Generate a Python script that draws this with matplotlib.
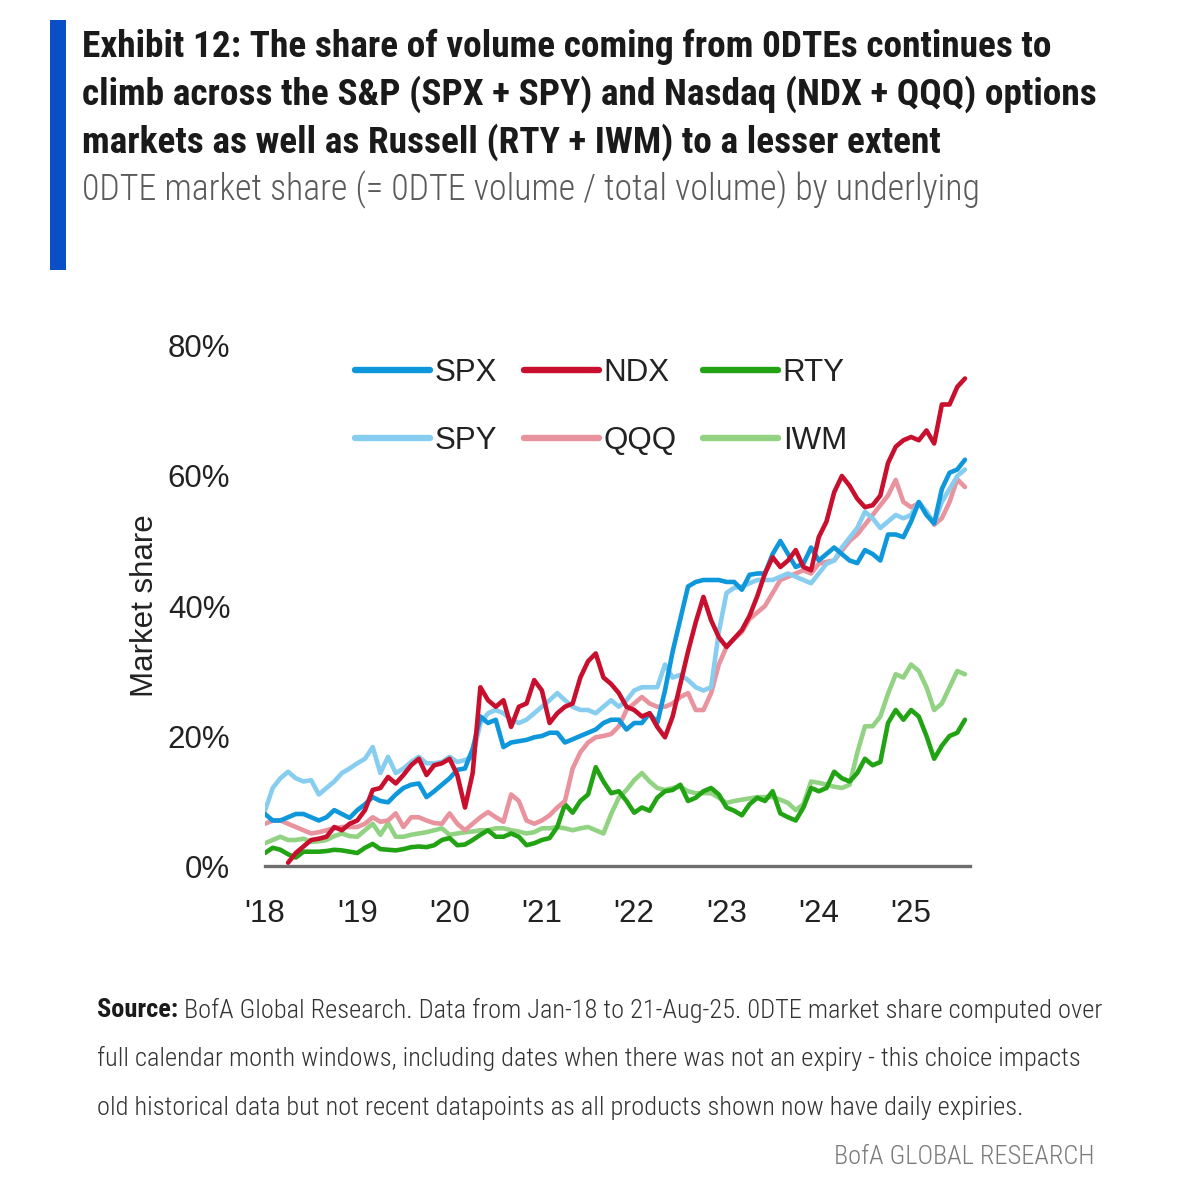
import matplotlib
matplotlib.use('Agg')
import matplotlib.pyplot as plt
from matplotlib import font_manager as fm
from matplotlib.patches import Rectangle
import numpy as np

# ---------------- data (monthly, Jan-18 .. Aug-25, % market share) ----------------
start_year = 2018
spx = [8, 7, 7, 7.5, 8, 8, 7.5, 7, 7.5, 8.6, 8, 7.4,
       8.6, 9.5, 10.6, 10, 9.8, 11, 12, 12.5, 12.7, 10.6, 11.5, 12.5,
       13.5, 14.8, 15, 18, 23, 22, 22.5, 18.3, 19, 19.2, 19.4, 19.8,
       20, 20.5, 20.5, 19, 19.5, 20, 20.5, 21, 22, 22.5, 22.5, 21,
       22, 22, 23.5, 22, 27, 33, 38, 43, 43.7, 44, 44, 44,
       43.7, 43.7, 42.5, 44.8, 45, 45, 48, 50, 48, 46, 46.5, 49,
       47, 48, 49, 48, 47, 46.6, 48.6, 48, 47, 51, 51, 50.6,
       53, 56, 54, 52.7, 58, 60.5, 61, 62.5]
spy = [8.5, 12, 13.5, 14.5, 13.5, 13, 13.2, 11, 12, 13, 14.3, 15,
       15.8, 16.5, 18.3, 14.3, 16.8, 14.3, 15, 16, 16.8, 15.8, 15.8, 16,
       16.8, 16, 16.3, 16.8, 22, 23.5, 24, 23.5, 22.5, 22, 22.5, 23.5,
       24.5, 25.5, 26.6, 25.5, 24.5, 24, 24, 23.5, 24.5, 25.5, 24.5, 25.5,
       27, 27.5, 27.5, 27.5, 31, 29, 29.4, 28.6, 27.5, 27, 27.5, 36,
       42, 42.8, 43, 43.5, 44, 44, 44, 44.5, 45, 44.5, 44, 43.5,
       45, 46.5, 47, 49, 50.5, 52, 54.5, 53.5, 52, 53, 54, 53.5,
       54, 56, 54.5, 52.7, 56, 58, 60, 61]
ndx = [np.nan, np.nan, np.nan, 0.5, 2, 3, 4, 4.2, 4.5, 6, 5.5, 6.5,
       7, 8.6, 11.7, 12, 13.7, 12.7, 14, 15.5, 16.5, 14, 15.5, 15.8,
       16.5, 14, 9, 14.3, 27.5, 25.5, 24.5, 25.5, 21.4, 24.5, 25, 28.6,
       27, 22, 23.5, 24.5, 25, 29, 31.5, 32.7, 29, 28, 26.6, 24.5,
       24, 23, 23.5, 21.4, 19.8, 23, 28, 33, 37.5, 41.4, 37.8, 35.2,
       33.7, 35, 36.3, 38.5, 41.5, 45, 47.5, 46, 47, 48.6, 46, 45.5,
       50.6, 53, 57.5, 60, 58.5, 56.5, 55.2, 55.5, 57, 62, 64.5, 65.5,
       66, 65.5, 67, 65, 71, 71, 73.7, 75]
qqq = [6.5, 7, 7, 6.5, 6, 5.5, 5, 5.2, 5.5, 5.8, 6, 6,
       6, 6.5, 7.5, 6.8, 7, 8.1, 6, 7.5, 7.5, 7, 6.6, 6.5,
       8.1, 6.5, 5.5, 6.5, 7.5, 8.3, 7.5, 6.8, 11, 10, 7, 6.5,
       7, 7.8, 9, 10, 15, 17.5, 19, 19.8, 20, 20.3, 21.5, 24,
       25, 26, 25, 24.5, 24.5, 25, 26, 26.6, 24, 24, 26.6, 31,
       33.7, 35, 36, 38, 39, 40, 42, 44, 44.5, 45, 45.5, 45,
       46.5, 46.8, 47, 48.5, 50, 51, 52.5, 54, 55.5, 57, 59.4, 56,
       55.2, 55.8, 54.5, 52.5, 53.5, 56, 59.5, 58.3]
rty = [2, 2.8, 2.5, 1.8, 1.3, 2.2, 2.2, 2.2, 2.3, 2.5, 2.4, 2.2,
       2, 2.8, 3.4, 2.6, 2.5, 2.4, 2.6, 2.9, 3, 2.9, 3.2, 4,
       4.3, 3.2, 3.3, 4, 4.8, 5.5, 4.5, 4.5, 5, 4.5, 3.2, 3.5,
       4, 4.3, 6, 9.5, 8.2, 10, 11, 15.2, 13, 11.2, 11.5, 10,
       8.2, 9, 8.5, 10.5, 11.5, 11.7, 12.5, 10, 10.5, 11.5, 12, 11,
       9, 8.5, 7.8, 9.5, 10.5, 10, 11.5, 8.1, 7.5, 7, 9, 12,
       11.5, 12, 14.5, 13.5, 13, 14.3, 16.5, 15.5, 16, 22, 24, 22.5,
       24, 23, 20, 16.5, 18.5, 20, 20.5, 22.5]
iwm = [3.5, 4, 4.5, 4, 4, 4.2, 3.7, 3.8, 4, 4.6, 5, 4.6,
       4.5, 5.5, 6.5, 4.8, 6.6, 4.5, 4.5, 4.8, 5, 5.2, 5.5, 5.8,
       4.8, 5, 5.2, 5.3, 5.5, 5.5, 5.8, 5.8, 5.5, 5.3, 5, 5.2,
       5.8, 5.8, 6, 5.8, 5.5, 5.8, 6, 5.5, 5, 8, 10.5, 11.7,
       13.2, 14.3, 13, 12, 11.7, 12, 12.2, 11.5, 11.2, 11.2, 11.2, 10.5,
       9.7, 10, 10.2, 10.4, 10.6, 10.6, 10.6, 10.2, 9.7, 8.6, 9.5, 13,
       12.8, 12.5, 12.2, 12, 12.5, 17.4, 21.5, 21.5, 23, 26.5, 29.5, 29,
       31, 30, 27.5, 24, 25, 27.5, 30, 29.5]

series_names = ['SPX', 'SPY', 'NDX', 'QQQ', 'RTY', 'IWM']
series_vals = [spx, spy, ndx, qqq, rty, iwm]
series_colors = ['#0f97dc', '#86cdf0', '#c8102e', '#e8939e', '#22a314', '#92d383']
series_z = [5, 4, 6, 3, 2, 1]

year_ticks = [2018, 2019, 2020, 2021, 2022, 2023, 2024, 2025]
year_labels = ["'18", "'19", "'20", "'21", "'22", "'23", "'24", "'25"]
y_ticks = [0, 20, 40, 60, 80]
y_labels = ['0%', '20%', '40%', '60%', '80%']


def pick(fams):
    for f in fams:
        try:
            fm.findfont(fm.FontProperties(family=f), fallback_to_default=False)
            return f
        except Exception:
            pass
    return 'DejaVu Sans'


TXT = pick(['Roboto Condensed', 'Liberation Sans Narrow', 'Open Sans Condensed', 'Roboto'])
AX = pick(['Liberation Sans', 'Arial', 'DejaVu Sans'])

W, H = 1200, 1204
fig = plt.figure(figsize=(W / 100, H / 100), dpi=100)
fig.patch.set_facecolor('white')
renderer = fig.canvas.get_renderer()


def fy(py):
    return 1 - py / H


def fit(x, y, s, target_w, size=None, **kw):
    t = fig.text(x / W, fy(y), s, fontsize=20, **kw)
    if size is None:
        w = t.get_window_extent(renderer).width
        size = 20 * target_w / w
    t.set_fontsize(size)
    return t, size

# blue accent bar
fig.patches.append(Rectangle((50 / W, fy(270)), 16 / W, 250 / H, transform=fig.transFigure,
                             facecolor='#0a4fc6', edgecolor='none'))

# title
_, tsz = fit(82, 47, 'Exhibit 12: The share of volume coming from 0DTEs continues to', 970,
             family=TXT, weight='bold', color='#1a1a1a', va='center', ha='left')
fit(82, 94, 'climb across the S&P (SPX + SPY) and Nasdaq (NDX + QQQ) options', 0, size=tsz,
    family=TXT, weight='bold', color='#1a1a1a', va='center', ha='left')
fit(82, 142, 'markets as well as Russell (RTY + IWM) to a lesser extent', 0, size=tsz,
    family=TXT, weight='bold', color='#1a1a1a', va='center', ha='left')
fit(82, 190, '0DTE market share (= 0DTE volume / total volume) by underlying', 896,
    family=TXT, weight='light', color='#5a5a5a', va='center', ha='left')

# chart
ax = fig.add_axes([265 / W, fy(866), 705 / W, 520 / H])
x = start_year + np.arange(len(spx)) / 12.0
handles = []
for name, vals, col, z in zip(series_names, series_vals, series_colors, series_z):
    ln, = ax.plot(x, np.array(vals, dtype=float), color=col, lw=3.3, label=name,
                  zorder=z, solid_joinstyle='round', solid_capstyle='round')
    handles.append(ln)

ax.set_xlim(2018, 2018 + 705 / 92.3)
ax.set_ylim(0, 80)
ax.set_xticks(year_ticks)
ax.set_xticklabels(year_labels)
ax.set_yticks(y_ticks)
ax.set_yticklabels(y_labels)
for s in ['left', 'right', 'top']:
    ax.spines[s].set_visible(False)
ax.spines['bottom'].set_color('#6e6e6e')
ax.spines['bottom'].set_linewidth(2.4)
ax.spines['bottom'].set_zorder(10)
ax.tick_params(axis='both', length=0, labelsize=22.5, colors='#222222')
ax.tick_params(axis='y', pad=25)
ax.tick_params(axis='x', pad=24)
for lab in ax.get_xticklabels() + ax.get_yticklabels():
    lab.set_family(AX)
ax.set_facecolor('white')

fig.text(145 / W, fy(606), 'Market share', rotation=90, ha='center', va='center',
         fontsize=22.5, family=AX, color='#222222')

leg = ax.legend(handles=handles, ncol=3, loc='upper left', bbox_to_anchor=(355 / W, fy(358)),
                bbox_transform=fig.transFigure, frameon=False, borderpad=0, borderaxespad=0,
                handlelength=2.4, handletextpad=0.15, columnspacing=0.85, labelspacing=1.22,
                prop={'family': AX, 'size': 22.5})
for l in leg.get_lines():
    l.set_linewidth(4.6)
for t in leg.get_texts():
    t.set_color('#222222')

# footer
src, fsz = fit(97, 1010, 'Source: BofA Global Research. Data from Jan-18 to 21-Aug-25. 0DTE market share computed over',
               998, family=TXT, weight='light', color='#333333', va='center', ha='left')
src.set_text('Source:')
src.set_weight('bold')
src.set_color('#1a1a1a')
fig.canvas.draw()
ax.annotate(' BofA Global Research. Data from Jan-18 to 21-Aug-25. 0DTE market share computed over',
            xy=(1, 0.5), xycoords=src, ha='left', va='center', fontsize=fsz, family=TXT,
            weight='light', color='#333333', annotation_clip=False)
fit(97, 1058, 'full calendar month windows, including dates when there was not an expiry - this choice impacts',
    0, size=fsz, family=TXT, weight='light', color='#333333', va='center', ha='left')
fit(97, 1108, 'old historical data but not recent datapoints as all products shown now have daily expiries.',
    0, size=fsz, family=TXT, weight='light', color='#333333', va='center', ha='left')
fig.text(1095 / W, fy(1157), 'BofA GLOBAL RESEARCH', fontsize=fsz, family=TXT, weight='light',
         color='#7a7a7a', ha='right', va='center')

fig.savefig('out.png', dpi=100, facecolor='white')
